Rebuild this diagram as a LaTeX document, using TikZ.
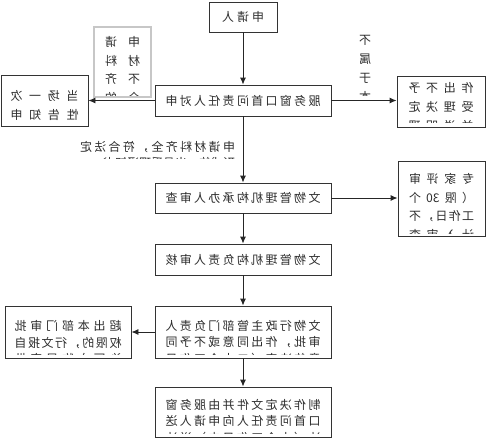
\documentclass[tikz,border=0pt]{standalone}
\usepackage{fontspec}
\usepackage{graphicx}
\setmainfont{Noto Sans CJK SC}
\usetikzlibrary{arrows.meta}
\makeatletter
\def\sprd#1{\sprd@a#1\sprd@end}
\def\sprd@a#1#2\sprd@end{#1\ifx\relax#2\relax\else\hfil\sprd@a#2\sprd@end\fi}
\makeatother
\newcommand{\mr}[1]{\scalebox{-1}[1]{#1}}
\newcommand{\jline}[2]{\makebox[#1pt][s]{\sprd{#2}}}
\tikzset{
  box/.style={draw=black!80, line width=0.9pt, fill=white, inner sep=0pt,
    text=black!82, font=\fontsize{12}{16}\selectfont},
  greybox/.style={draw=black!22, line width=1.6pt, fill=white, inner sep=0pt},
  txt/.style={inner sep=0pt, xscale=-1, anchor=north, text=black!82,
    font=\fontsize{12}{#1}\selectfont},
  txt/.default=16.5,
  arr/.style={-{Latex[length=7pt,width=6pt]}, line width=0.9pt, draw=black!85},
}
\newcommand{\inclip}[1]{\clip ([yshift=#1]path picture bounding box.south west) rectangle (path picture bounding box.north east);}
\begin{document}
\begin{tikzpicture}[x=1pt,y=-1pt]
\fill[white] (0,0) rectangle (486,440);
\useasboundingbox (0,0) rectangle (486,440);

% top
\node[box, minimum width=68pt, minimum height=30pt] (app) at (243,17) {\mr{\jline{42}{申请人}}};
% main
\node[box, minimum width=176pt, minimum height=31pt] (main) at (243,100.5) {\mr{\jline{155}{服务窗口首问责任人对申}}};
% left 1
\node[box, minimum width=87pt, minimum height=51pt,
  path picture={\node[txt=19, align=center] (t1) at ([yshift=-5pt]path picture bounding box.north) {\jline{68}{当场一次}\\\jline{68}{性告知申}};}] (left1) at (44.5,100.5) {};
% grey box
\node[greybox, minimum width=57pt, minimum height=70pt,
  path picture={\inclip{2pt}\node[txt=18.5, align=center] (tg) at ([yshift=-7pt]path picture bounding box.north) {\jline{35}{申请}\\\jline{35}{材料}\\\jline{35}{不齐}\\\jline{35}{全的}};}] (grey) at (122.5,62) {};
% vertical label
\node[draw=none, inner sep=0pt, minimum width=20pt, minimum height=69pt,
  path picture={\inclip{1pt}\node[txt=19, align=center] (tv) at ([yshift=-7pt]path picture bounding box.north) {不\\属\\于\\本};}] (vlab) at (365,61.5) {};
% right 1
\node[box, minimum width=88pt, minimum height=51pt,
  path picture={\inclip{5pt}\node[txt=19, align=center] (t2) at ([yshift=-5pt]path picture bounding box.north) {\jline{65}{作出不予}\\\jline{65}{受理决定}\\\jline{65}{并说明理}};}] (right1) at (441,101.5) {};
% label under main
\node[draw=none, inner sep=0pt, minimum width=165pt, minimum height=25pt,
  path picture={\inclip{2pt}\node[txt=16, align=left] (tl) at ([yshift=-6pt]path picture bounding box.north) {\jline{155}{申请材料齐全，符合法定}\\形式的，出具受理通知书};}] (lab) at (157.5,147.5) {};
% box 2
\node[box, minimum width=176pt, minimum height=30pt] (box2) at (243,198) {\mr{\jline{155}{文物管理机构承办人审查}}};
% right 2
\node[box, minimum width=87pt, minimum height=75pt,
  path picture={\inclip{3pt}\node[txt=18.5, align=center] (t3) at ([yshift=-8pt]path picture bounding box.north) {\jline{65}{专家评审}\\\makebox[65pt][s]{（\hfil 限\hfil 30\hfil 个}\\\jline{65}{工作日，不}\\\jline{65}{计入审查}};}] (right2) at (441.5,198.5) {};
% box 3
\node[box, minimum width=176pt, minimum height=31pt] (box3) at (243,259.5) {\mr{\jline{155}{文物管理机构负责人审核}}};
% box 4
\node[box, minimum width=176pt, minimum height=52pt,
  path picture={\inclip{4pt}\node[txt=16.5, align=left] (t4) at ([yshift=-10pt]path picture bounding box.north) {\jline{155}{文物行政主管部门负责人}\\\jline{155}{审批，作出同意或不予同}\\\jline{155}{意的决定（二十个工作日}};}] (box4) at (243,332) {};
% left 4
\node[box, minimum width=126pt, minimum height=52pt,
  path picture={\inclip{4pt}\node[txt=16.5, align=left] (t5) at ([yshift=-10pt]path picture bounding box.north) {\jline{107}{超出本部门审批}\\\jline{107}{权限的，行文报自}\\\jline{107}{治区文物局审批}};}] (left4) at (68,332) {};
% box 5
\node[box, minimum width=176pt, minimum height=50pt,
  path picture={\inclip{4pt}\node[txt=16.5, align=left] (t6) at ([yshift=-9pt]path picture bounding box.north) {\jline{155}{制作决定文件并由服务窗}\\\jline{155}{口首问责任人向申请人送}\\\jline{155}{达（十个工作日内）送达}};}] (box5) at (243,412) {};

% connectors
\draw[arr] (app) -- (main);
\draw[arr] (main) -- (left1);
\draw[arr] (main.east) -- (main.east -| right1.west);
\draw[arr] (main) -- (box2);
\draw[arr] (box2.east) -- (box2.east -| right2.west);
\draw[arr] (box2) -- (box3);
\draw[arr] (box3) -- (box4);
\draw[arr] (box4.west) -- (box4.west -| left4.east);
\draw[arr] (box4) -- (box5);
\end{tikzpicture}
\end{document}
